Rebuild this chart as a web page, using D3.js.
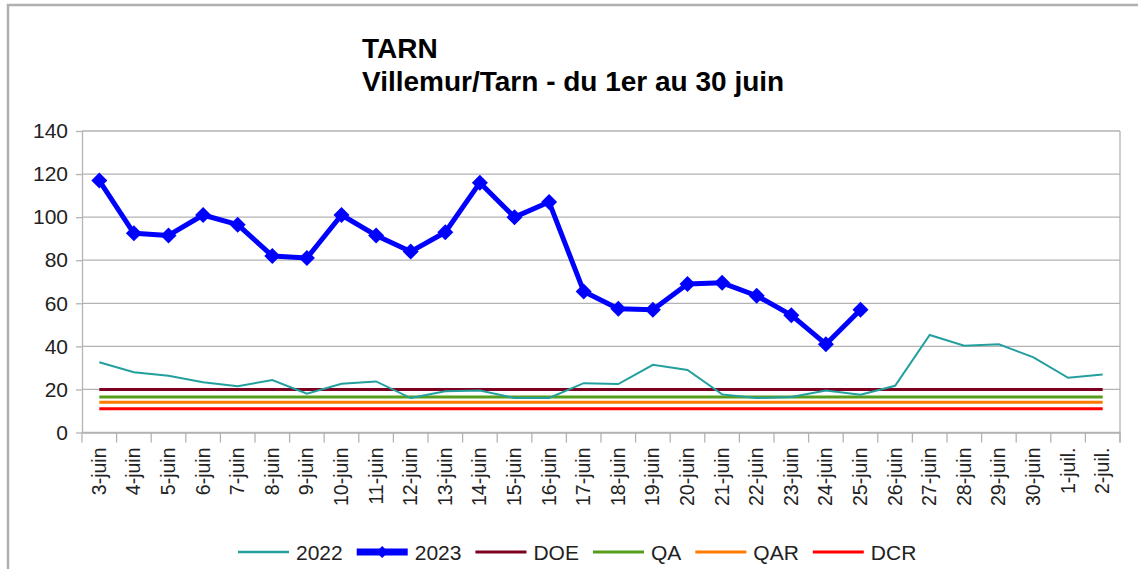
<!DOCTYPE html>
<html>
<head>
<meta charset="utf-8">
<script src="https://cdn.jsdelivr.net/npm/d3@7"></script>
<style>
    body { margin: 0; background: #fff; }
    svg { display: block; font-family: "Liberation Sans", Arial, sans-serif; }
</style>
</head>
<body>
<div id="chart"></div>
<script>

// débits journaliers (m3/s)
var days = ["3-juin", "4-juin", "5-juin", "6-juin", "7-juin", "8-juin", "9-juin",
    "10-juin", "11-juin", "12-juin", "13-juin", "14-juin", "15-juin", "16-juin",
    "17-juin", "18-juin", "19-juin", "20-juin", "21-juin", "22-juin", "23-juin",
    "24-juin", "25-juin", "26-juin", "27-juin", "28-juin", "29-juin", "30-juin",
    "1-juil.", "2-juil."];

var flow2022 = [32.6, 28, 26.4, 23.3, 21.5, 24.4, 18, 22.6, 23.7, 16,
    19.2, 19.5, 16, 16, 22.9, 22.5, 31.4, 29, 17.7, 16,
    16.5, 19.5, 17.5, 21.7, 45.3, 40.3, 41, 34.9, 25.4, 26.9];

var flow2023 = [117, 92.5, 91.5, 101, 96.5, 82, 81, 101, 91.5, 84,
    93, 116, 100, 107, 65.5, 57.5, 57, 69, 69.5, 63.5,
    54.5, 41, 57];

var thresholdNames = ["DOE", "QA", "QAR", "DCR"],
    thresholdValues = [20, 16.5, 14, 11];

var yTicks = [0, 20, 40, 60, 80, 100, 120, 140];

window.onload = function() {

    var width = 1138,
        height = 569;

    var colors = {
        "2022": "#23a09e",
        "2023": "#0000ff",
        "DOE": "#7e0021",
        "QA": "#579d1c",
        "QAR": "#ff7a00",
        "DCR": "#ff0000"
    };

    var svg = d3.select("#chart").append("svg")
        .attr("width", width)
        .attr("height", height);

    // cadre gris
    svg.append("rect")
        .attr("x", 8)
        .attr("y", 5)
        .attr("width", width + 20)
        .attr("height", height + 20)
        .attr("fill", "none")
        .attr("stroke", "#b0b0b0")
        .attr("stroke-width", 2.5);

    // titre
    var title = svg.append("text")
        .attr("x", 362)
        .attr("font-size", 28)
        .attr("font-weight", "bold")
        .attr("fill", "#000");
    title.append("tspan").attr("x", 362).attr("y", 58).text("TARN");
    title.append("tspan").attr("x", 362).attr("y", 91).text("Villemur/Tarn - du 1er au 30 juin");

    var x = d3.scaleBand()
        .domain(days)
        .range([82, 1120]);

    var y = d3.scaleLinear()
        .domain([0, 140])
        .range([432.5, 131]);

    var xc = function(i) { return x(days[i]) + x.bandwidth() / 2; };

    // grille horizontale
    svg.append("g")
        .attr("class", "grid")
        .selectAll("line")
        .data(yTicks)
        .enter().append("line")
        .attr("x1", 82)
        .attr("x2", 1120)
        .attr("y1", function(d) { return y(d); })
        .attr("y2", function(d) { return y(d); })
        .attr("stroke", "#b3b3b3")
        .attr("stroke-width", 1.3);

    // bord droit
    svg.append("line")
        .attr("x1", 1120).attr("x2", 1120)
        .attr("y1", y(140)).attr("y2", y(0) + 10)
        .attr("stroke", "#b3b3b3")
        .attr("stroke-width", 1.3);

    // axe Y
    var yAxis = svg.append("g")
        .attr("transform", "translate(82,0)")
        .call(d3.axisLeft(y).tickValues(yTicks).tickSize(6).tickPadding(8).tickSizeOuter(0));

    yAxis.selectAll("path, line").attr("stroke", "#b3b3b3").attr("stroke-width", 1.3);
    yAxis.selectAll("text")
        .attr("font-size", 21)
        .attr("font-family", "Liberation Sans, Arial, sans-serif")
        .attr("fill", "#222");

    // axe X : étiquettes au centre, graduations entre les jours
    var xAxis = svg.append("g")
        .attr("transform", "translate(0," + y(0) + ")")
        .call(d3.axisBottom(x).tickSize(0).tickSizeOuter(0));

    xAxis.select("path").attr("stroke", "#b3b3b3").attr("stroke-width", 1.3);
    xAxis.selectAll("text")
        .attr("font-size", 19.5)
        .attr("font-family", "Liberation Sans, Arial, sans-serif")
        .attr("fill", "#222")
        .attr("transform", "rotate(-90)")
        .attr("text-anchor", "end")
        .attr("x", -15)
        .attr("y", 0)
        .attr("dy", "0.33em");

    svg.append("g")
        .selectAll("line")
        .data(days.concat(["end"]))
        .enter().append("line")
        .attr("x1", function(d, i) { return i < days.length ? x(d) : 1120; })
        .attr("x2", function(d, i) { return i < days.length ? x(d) : 1120; })
        .attr("y1", y(0))
        .attr("y2", y(0) + 10)
        .attr("stroke", "#b3b3b3")
        .attr("stroke-width", 1.3);

    // seuils
    svg.append("g")
        .selectAll("line")
        .data(thresholdValues)
        .enter().append("line")
        .attr("x1", xc(0))
        .attr("x2", xc(days.length - 1))
        .attr("y1", function(d) { return y(d); })
        .attr("y2", function(d) { return y(d); })
        .attr("stroke", function(d, i) { return colors[thresholdNames[i]]; })
        .attr("stroke-width", 3);

    var line = d3.line()
        .x(function(d, i) { return xc(i); })
        .y(function(d) { return y(d); });

    svg.append("path")
        .datum(flow2022)
        .attr("d", line)
        .attr("fill", "none")
        .attr("stroke", colors["2022"])
        .attr("stroke-width", 2);

    svg.append("path")
        .datum(flow2023)
        .attr("d", line)
        .attr("fill", "none")
        .attr("stroke", colors["2023"])
        .attr("stroke-width", 5)
        .attr("stroke-linejoin", "round");

    var diamond = "M0,-8L8,0L0,8L-8,0Z";

    svg.append("g")
        .selectAll("path")
        .data(flow2023)
        .enter().append("path")
        .attr("d", diamond)
        .attr("transform", function(d, i) { return "translate(" + xc(i) + "," + y(d) + ")"; })
        .attr("fill", colors["2023"]);

    // légende
    var legendNames = ["2022", "2023"].concat(thresholdNames),
        lx = 238,
        ly = 552;

    legendNames.forEach(function(name) {
        var item = svg.append("g");
        item.append("line")
            .attr("x1", lx).attr("x2", lx + 51)
            .attr("y1", ly).attr("y2", ly)
            .attr("stroke", colors[name])
            .attr("stroke-width", name == "2023" ? 7 : (name == "2022" ? 2.5 : 3));
        if (name == "2023") {
            item.append("path")
                .attr("d", "M0,-6L6,0L0,6L-6,0Z")
                .attr("transform", "translate(" + (lx + 25.5) + "," + ly + ")")
                .attr("fill", colors[name]);
        }
        var t = item.append("text")
            .attr("x", lx + 58)
            .attr("y", ly + 7.5)
            .attr("font-size", 21)
            .attr("fill", "#222")
            .text(name);
        lx = lx + 58 + t.node().getComputedTextLength() + 14;
    });
};
</script>
</body>
</html>
